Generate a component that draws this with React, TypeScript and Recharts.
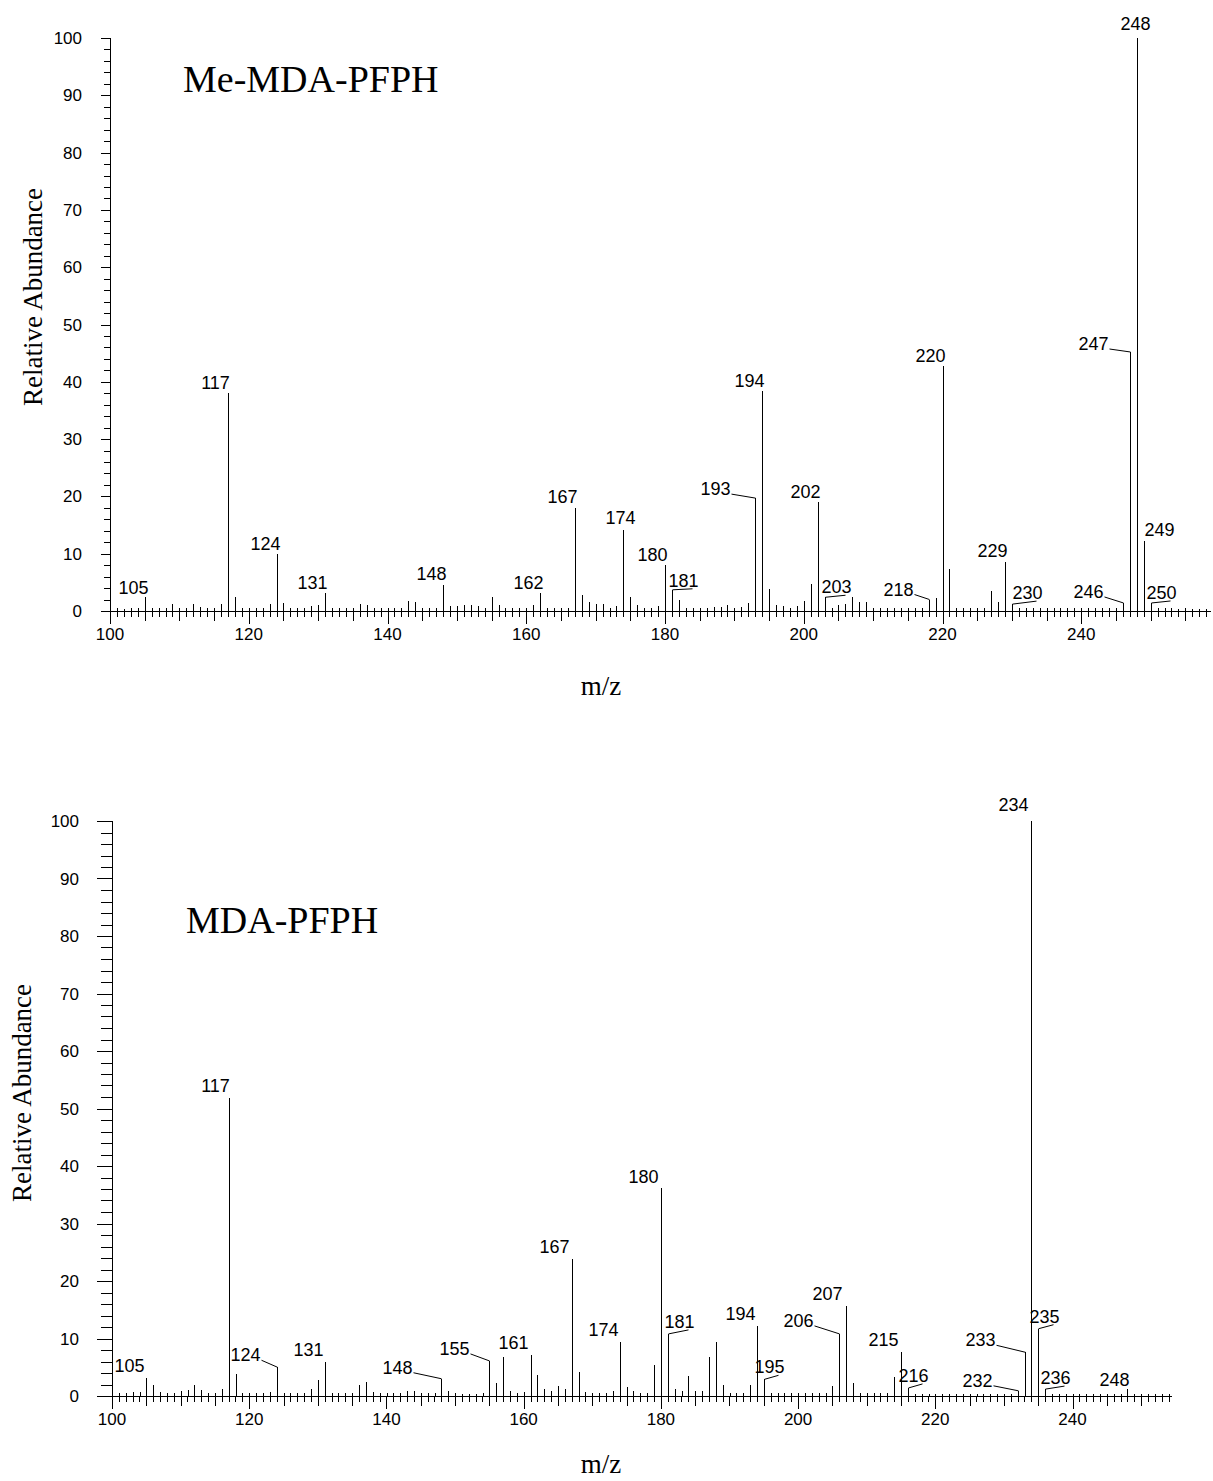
import React from 'react';
import { BarChart, Bar, XAxis, YAxis } from 'recharts';

// ---------- Me-MDA-PFPH spectrum ----------
const topMz = [
  100, 101, 102, 103, 104, 105, 106, 107, 108, 109,
  110, 111, 112, 113, 114, 115, 116, 117, 118, 119,
  120, 121, 122, 123, 124, 125, 126, 127, 128, 129,
  130, 131, 132, 133, 134, 135, 136, 137, 138, 139,
  140, 141, 142, 143, 144, 145, 146, 147, 148, 149,
  150, 151, 152, 153, 154, 155, 156, 157, 158, 159,
  160, 161, 162, 163, 164, 165, 166, 167, 168, 169,
  170, 171, 172, 173, 174, 175, 176, 177, 178, 179,
  180, 181, 182, 183, 184, 185, 186, 187, 188, 189,
  190, 191, 192, 193, 194, 195, 196, 197, 198, 199,
  200, 201, 202, 203, 204, 205, 206, 207, 208, 209,
  210, 211, 212, 213, 214, 215, 216, 217, 218, 219,
  220, 221, 222, 223, 224, 225, 226, 227, 228, 229,
  230, 231, 232, 233, 234, 235, 236, 237, 238, 239,
  240, 241, 242, 243, 244, 245, 246, 247, 248, 249,
  250, 251, 252, 253, 254, 255, 256, 257, 258,
];
const topAbundance = [
  0.4, 0.5, 0.4, 0.5, 0.5, 2.4, 0.6, 0.5, 0.5, 1.2,
  0.6, 0.5, 1.2, 0.7, 0.6, 0.5, 1.2, 38.0, 2.5, 0.6,
  0.5, 0.5, 0.6, 1.3, 10.0, 1.4, 0.6, 0.5, 0.6, 0.8,
  1.0, 3.1, 0.6, 0.5, 0.5, 0.6, 1.3, 1.1, 0.6, 0.5,
  0.6, 0.5, 0.6, 1.7, 1.6, 0.5, 0.6, 0.6, 4.5, 0.8,
  0.9, 1.0, 1.0, 0.8, 0.6, 2.4, 1.1, 0.5, 0.5, 0.6,
  0.6, 1.0, 3.1, 0.5, 0.5, 0.5, 0.6, 17.9, 2.8, 1.5,
  1.3, 1.3, 0.5, 0.8, 14.1, 2.4, 1.0, 0.6, 0.5, 0.9,
  8.0, 3.7, 2.0, 0.6, 0.5, 0.6, 0.6, 0.7, 0.7, 1.0,
  0.6, 0.7, 1.4, 19.7, 38.4, 3.8, 1.0, 0.8, 0.6, 0.8,
  1.7, 4.7, 19.1, 2.4, 0.6, 1.0, 1.3, 2.5, 1.5, 1.5,
  0.5, 0.5, 0.5, 0.5, 0.5, 0.5, 0.5, 0.5, 2.0, 2.2,
  42.8, 7.3, 0.6, 0.5, 0.5, 0.5, 0.5, 3.5, 1.6, 8.5,
  1.2, 0.6, 0.5, 0.5, 0.6, 0.5, 0.5, 0.5, 0.5, 0.5,
  0.5, 0.5, 0.5, 0.5, 0.5, 0.5, 1.4, 45.2, 100, 12.2,
  1.4, 0.5, 0.5, 0.5, 0.4, 0.5, 0.4, 0.4, 0.4,
];
const topLabeled = [105, 117, 124, 131, 148, 162, 167, 174, 180, 181, 193, 194, 202, 203, 218, 220, 229, 230, 246, 247, 248, 249, 250];

// ---------- MDA-PFPH spectrum ----------
const bottomMz = [
  100, 101, 102, 103, 104, 105, 106, 107, 108, 109,
  110, 111, 112, 113, 114, 115, 116, 117, 118, 119,
  120, 121, 122, 123, 124, 125, 126, 127, 128, 129,
  130, 131, 132, 133, 134, 135, 136, 137, 138, 139,
  140, 141, 142, 143, 144, 145, 146, 147, 148, 149,
  150, 151, 152, 153, 154, 155, 156, 157, 158, 159,
  160, 161, 162, 163, 164, 165, 166, 167, 168, 169,
  170, 171, 172, 173, 174, 175, 176, 177, 178, 179,
  180, 181, 182, 183, 184, 185, 186, 187, 188, 189,
  190, 191, 192, 193, 194, 195, 196, 197, 198, 199,
  200, 201, 202, 203, 204, 205, 206, 207, 208, 209,
  210, 211, 212, 213, 214, 215, 216, 217, 218, 219,
  220, 221, 222, 223, 224, 225, 226, 227, 228, 229,
  230, 231, 232, 233, 234, 235, 236, 237, 238, 239,
  240, 241, 242, 243, 244, 245, 246, 247, 248, 249,
  250, 251, 252, 253, 254,
];
const bottomAbundance = [
  0.4, 0.5, 0.5, 0.7, 0.7, 3.1, 2.0, 0.7, 0.5, 0.5,
  0.9, 1.0, 2.0, 1.0, 0.6, 0.5, 1.3, 51.8, 3.8, 0.6,
  0.6, 0.6, 0.6, 0.7, 5.0, 0.6, 0.5, 0.5, 0.5, 1.3,
  2.8, 6.0, 0.6, 0.5, 0.5, 0.5, 1.9, 2.4, 0.7, 0.5,
  0.5, 0.6, 0.5, 0.9, 0.9, 0.5, 0.5, 0.5, 3.0, 0.8,
  0.6, 0.4, 0.4, 0.4, 0.5, 6.1, 2.3, 6.8, 0.9, 0.6,
  0.7, 7.1, 3.7, 1.2, 0.8, 1.7, 1.2, 23.8, 4.1, 0.7,
  0.6, 0.6, 0.6, 0.8, 9.4, 1.5, 0.8, 0.6, 0.6, 5.4,
  36.2, 10.8, 1.2, 0.9, 3.4, 0.8, 0.9, 6.8, 9.4, 2.0,
  0.6, 0.6, 0.6, 2.0, 12.2, 2.9, 0.6, 0.5, 0.5, 0.5,
  0.5, 0.5, 0.5, 0.5, 0.5, 1.7, 10.8, 15.7, 2.3, 0.5,
  0.5, 0.5, 0.5, 0.5, 3.3, 7.7, 1.4, 0.4, 0.4, 0.4,
  0.4, 0.4, 0.4, 0.4, 0.4, 0.4, 0.4, 0.4, 0.4, 0.4,
  0.4, 0.4, 0.9, 7.6, 100, 11.7, 1.2, 0.3, 0.3, 0.3,
  0.3, 0.3, 0.3, 0.3, 0.3, 0.3, 0.3, 0.3, 1.2, 0.3,
  0.3, 0.3, 0.3, 0.3, 0.3,
];
const bottomLabeled = [105, 117, 124, 131, 148, 155, 161, 167, 174, 180, 181, 194, 195, 206, 207, 215, 216, 232, 233, 234, 235, 236, 248];

const yTicks = [
  0, 2, 4, 6, 8, 10, 12, 14, 16, 18, 20, 22, 24, 26, 28, 30, 32, 34, 36, 38,
  40, 42, 44, 46, 48, 50, 52, 54, 56, 58, 60, 62, 64, 66, 68, 70, 72, 74, 76, 78,
  80, 82, 84, 86, 88, 90, 92, 94, 96, 98, 100,
];

// label placement relative to peak top: [dx, dy, leader]
type Place = [number, number, string];
const topLabelPlace: Record<number, Place> = {
  105: [-12, -3, ''], 117: [-13, -4, ''], 124: [-12, -4, ''], 131: [-13, -4, ''],
  148: [-12, -5, ''], 162: [-12, -4, ''], 167: [-13, -5, ''], 174: [-3, -6, ''],
  180: [-13, -4, ''], 181: [11, -3, 'R'], 193: [-40, -3, 'L'], 194: [-13, -4, ''],
  202: [-13, -4, ''], 203: [11, -4, 'R'], 218: [-31, -4, 'L'], 220: [-13, -4, ''],
  229: [-13, -5, ''], 230: [15, -5, 'R'], 246: [-35, -5, 'L'], 247: [-37, -2, 'L'],
  248: [-2, -8, ''], 249: [15, -5, ''], 250: [10, -4, 'R'],
};
const bottomLabelPlace: Record<number, Place> = {
  105: [-17, -6, ''], 117: [-14, -6, ''], 124: [-32, -6, 'L'], 131: [-17, -6, ''],
  148: [-44, -5, 'L'], 155: [-35, -6, 'L'], 161: [-18, -6, ''], 167: [-18, -6, ''],
  174: [-17, -6, ''], 180: [-18, -5, ''], 181: [11, -6, 'R'], 194: [-17, -6, ''],
  195: [5, -6, 'R'], 206: [-41, -7, 'L'], 207: [-19, -6, ''], 215: [-18, -6, ''],
  216: [5, -6, 'R'], 232: [-41, -4, 'L'], 233: [-45, -6, 'L'], 234: [-18, -10, ''],
  235: [6, -6, 'R'], 236: [10, -5, 'R'], 248: [-13, -3, ''],
};

const SANS = '"Liberation Sans", Arial, Helvetica, sans-serif';
const SERIF = '"Liberation Serif", "Times New Roman", Times, serif';

const makePeakShape = (labeled: number[], place: Record<number, Place>) => (props: any) => {
  const { x, y, width, height, payload } = props;
  if (x == null || y == null) return null;
  const cx = Math.round(x + (width || 0) / 2) + 0.5;
  const top = Math.min(y, y + height);
  const bottom = Math.max(y, y + height);
  const mz = payload ? payload.mz : undefined;
  const isLabeled = mz != null && labeled.indexOf(mz) >= 0;
  const p: Place = (mz != null && place[mz]) || [-12, -4, ''];
  const tx = cx + p[0];
  const ty = top + p[1];
  const halfW = 15;
  return (
    <g>
      <line x1={cx} x2={cx} y1={top} y2={bottom} stroke="#000" strokeWidth={1} shapeRendering="crispEdges" />
      {isLabeled && (
        <text x={tx} y={ty} textAnchor="middle" fontSize={18} fontFamily={SANS} fill="#000">
          {mz}
        </text>
      )}
      {isLabeled && p[2] === 'L' && (
        <line x1={tx + halfW + 1} y1={ty - 1} x2={cx} y2={top} stroke="#000" strokeWidth={1} />
      )}
      {isLabeled && p[2] === 'R' && (
        <line x1={cx} y1={top} x2={tx + halfW * 0.6} y2={ty + 2} stroke="#000" strokeWidth={1} />
      )}
    </g>
  );
};

const makeXTick = () => (props: any) => {
  const { x, y, payload } = props;
  const v = payload.value;
  const len = v % 20 === 0 ? 13 : v % 5 === 0 ? 9.5 : 5.5;
  const xx = Math.round(x) + 0.5;
  return (
    <g>
      <line x1={xx} x2={xx} y1={y} y2={y + len} stroke="#000" strokeWidth={1} shapeRendering="crispEdges" />
      {v % 20 === 0 && (
        <text x={x} y={y + 29} textAnchor="middle" fontSize={17} fontFamily={SANS} fill="#000">
          {v}
        </text>
      )}
    </g>
  );
};

const makeYTick = (majorLen: number, minorLen: number, textGap: number) => (props: any) => {
  const { x, y, payload } = props;
  const v = payload.value;
  const major = v % 10 === 0;
  const yy = Math.round(y) + 0.5;
  return (
    <g>
      <line x1={x - (major ? majorLen : minorLen)} x2={x} y1={yy} y2={yy} stroke="#000" strokeWidth={1} shapeRendering="crispEdges" />
      {major && (
        <text x={x - textGap} y={y + 6} textAnchor="end" fontSize={17} fontFamily={SANS} fill="#000">
          {v}
        </text>
      )}
    </g>
  );
};

const topData = topMz.map((mz, i) => ({ mz, ab: topAbundance[i] }));
const bottomData = bottomMz.map((mz, i) => ({ mz, ab: bottomAbundance[i] }));

const topShape = makePeakShape(topLabeled, topLabelPlace);
const bottomShape = makePeakShape(bottomLabeled, bottomLabelPlace);

const axisLineStyle = { stroke: '#000', strokeWidth: 1, shapeRendering: 'crispEdges' } as any;

export default function App() {
  return (
    <div style={{ position: 'absolute', left: 0, top: 0, width: 1213, height: 1481, background: '#fff', overflow: 'hidden' }}>
      <div style={{ position: 'absolute', left: 0, top: 0 }}>
        <BarChart width={1213} height={650} data={topData} margin={{ top: 38, right: 2, bottom: 9, left: 50 }}>
          <XAxis
            type="number"
            dataKey="mz"
            domain={[100, 258.7]}
            ticks={topMz}
            interval={0}
            tickSize={0}
            tickMargin={0}
            tickLine={false}
            axisLine={axisLineStyle}
            tick={makeXTick()}
            height={30}
          />
          <YAxis
            type="number"
            domain={[0, 100]}
            ticks={yTicks}
            interval={0}
            tickSize={0}
            tickMargin={0}
            tickLine={false}
            axisLine={axisLineStyle}
            tick={makeYTick(9, 6, 28)}
            width={60}
          />
          <Bar dataKey="ab" barSize={1} shape={topShape} isAnimationActive={false} />
        </BarChart>
      </div>
      <div style={{ position: 'absolute', left: 0, top: 780 }}>
        <BarChart width={1213} height={660} data={bottomData} margin={{ top: 41, right: 41, bottom: 14, left: 52 }}>
          <XAxis
            type="number"
            dataKey="mz"
            domain={[100, 254.5]}
            ticks={bottomMz}
            interval={0}
            tickSize={0}
            tickMargin={0}
            tickLine={false}
            axisLine={axisLineStyle}
            tick={makeXTick()}
            height={30}
          />
          <YAxis
            type="number"
            domain={[0, 100]}
            ticks={yTicks}
            interval={0}
            tickSize={0}
            tickMargin={0}
            tickLine={false}
            axisLine={axisLineStyle}
            tick={makeYTick(15, 11, 33)}
            width={60}
          />
          <Bar dataKey="ab" barSize={1} shape={bottomShape} isAnimationActive={false} />
        </BarChart>
      </div>
      <svg width={1213} height={1481} style={{ position: 'absolute', left: 0, top: 0, pointerEvents: 'none' }}>
        <text x={183} y={92} fontSize={38} fontFamily={SERIF} fill="#000">Me-MDA-PFPH</text>
        <text x={186} y={933} fontSize={38} fontFamily={SERIF} fill="#000">MDA-PFPH</text>
        <text x={33} y={297} transform="rotate(-90 33 297)" textAnchor="middle" dominantBaseline="central" fontSize={27} fontFamily={SERIF} fill="#000">Relative Abundance</text>
        <text x={22} y={1093} transform="rotate(-90 22 1093)" textAnchor="middle" dominantBaseline="central" fontSize={27} fontFamily={SERIF} fill="#000">Relative Abundance</text>
        <text x={601} y={695} textAnchor="middle" fontSize={27} fontFamily={SERIF} fill="#000">m/z</text>
        <text x={601} y={1473} textAnchor="middle" fontSize={27} fontFamily={SERIF} fill="#000">m/z</text>
      </svg>
    </div>
  );
}
